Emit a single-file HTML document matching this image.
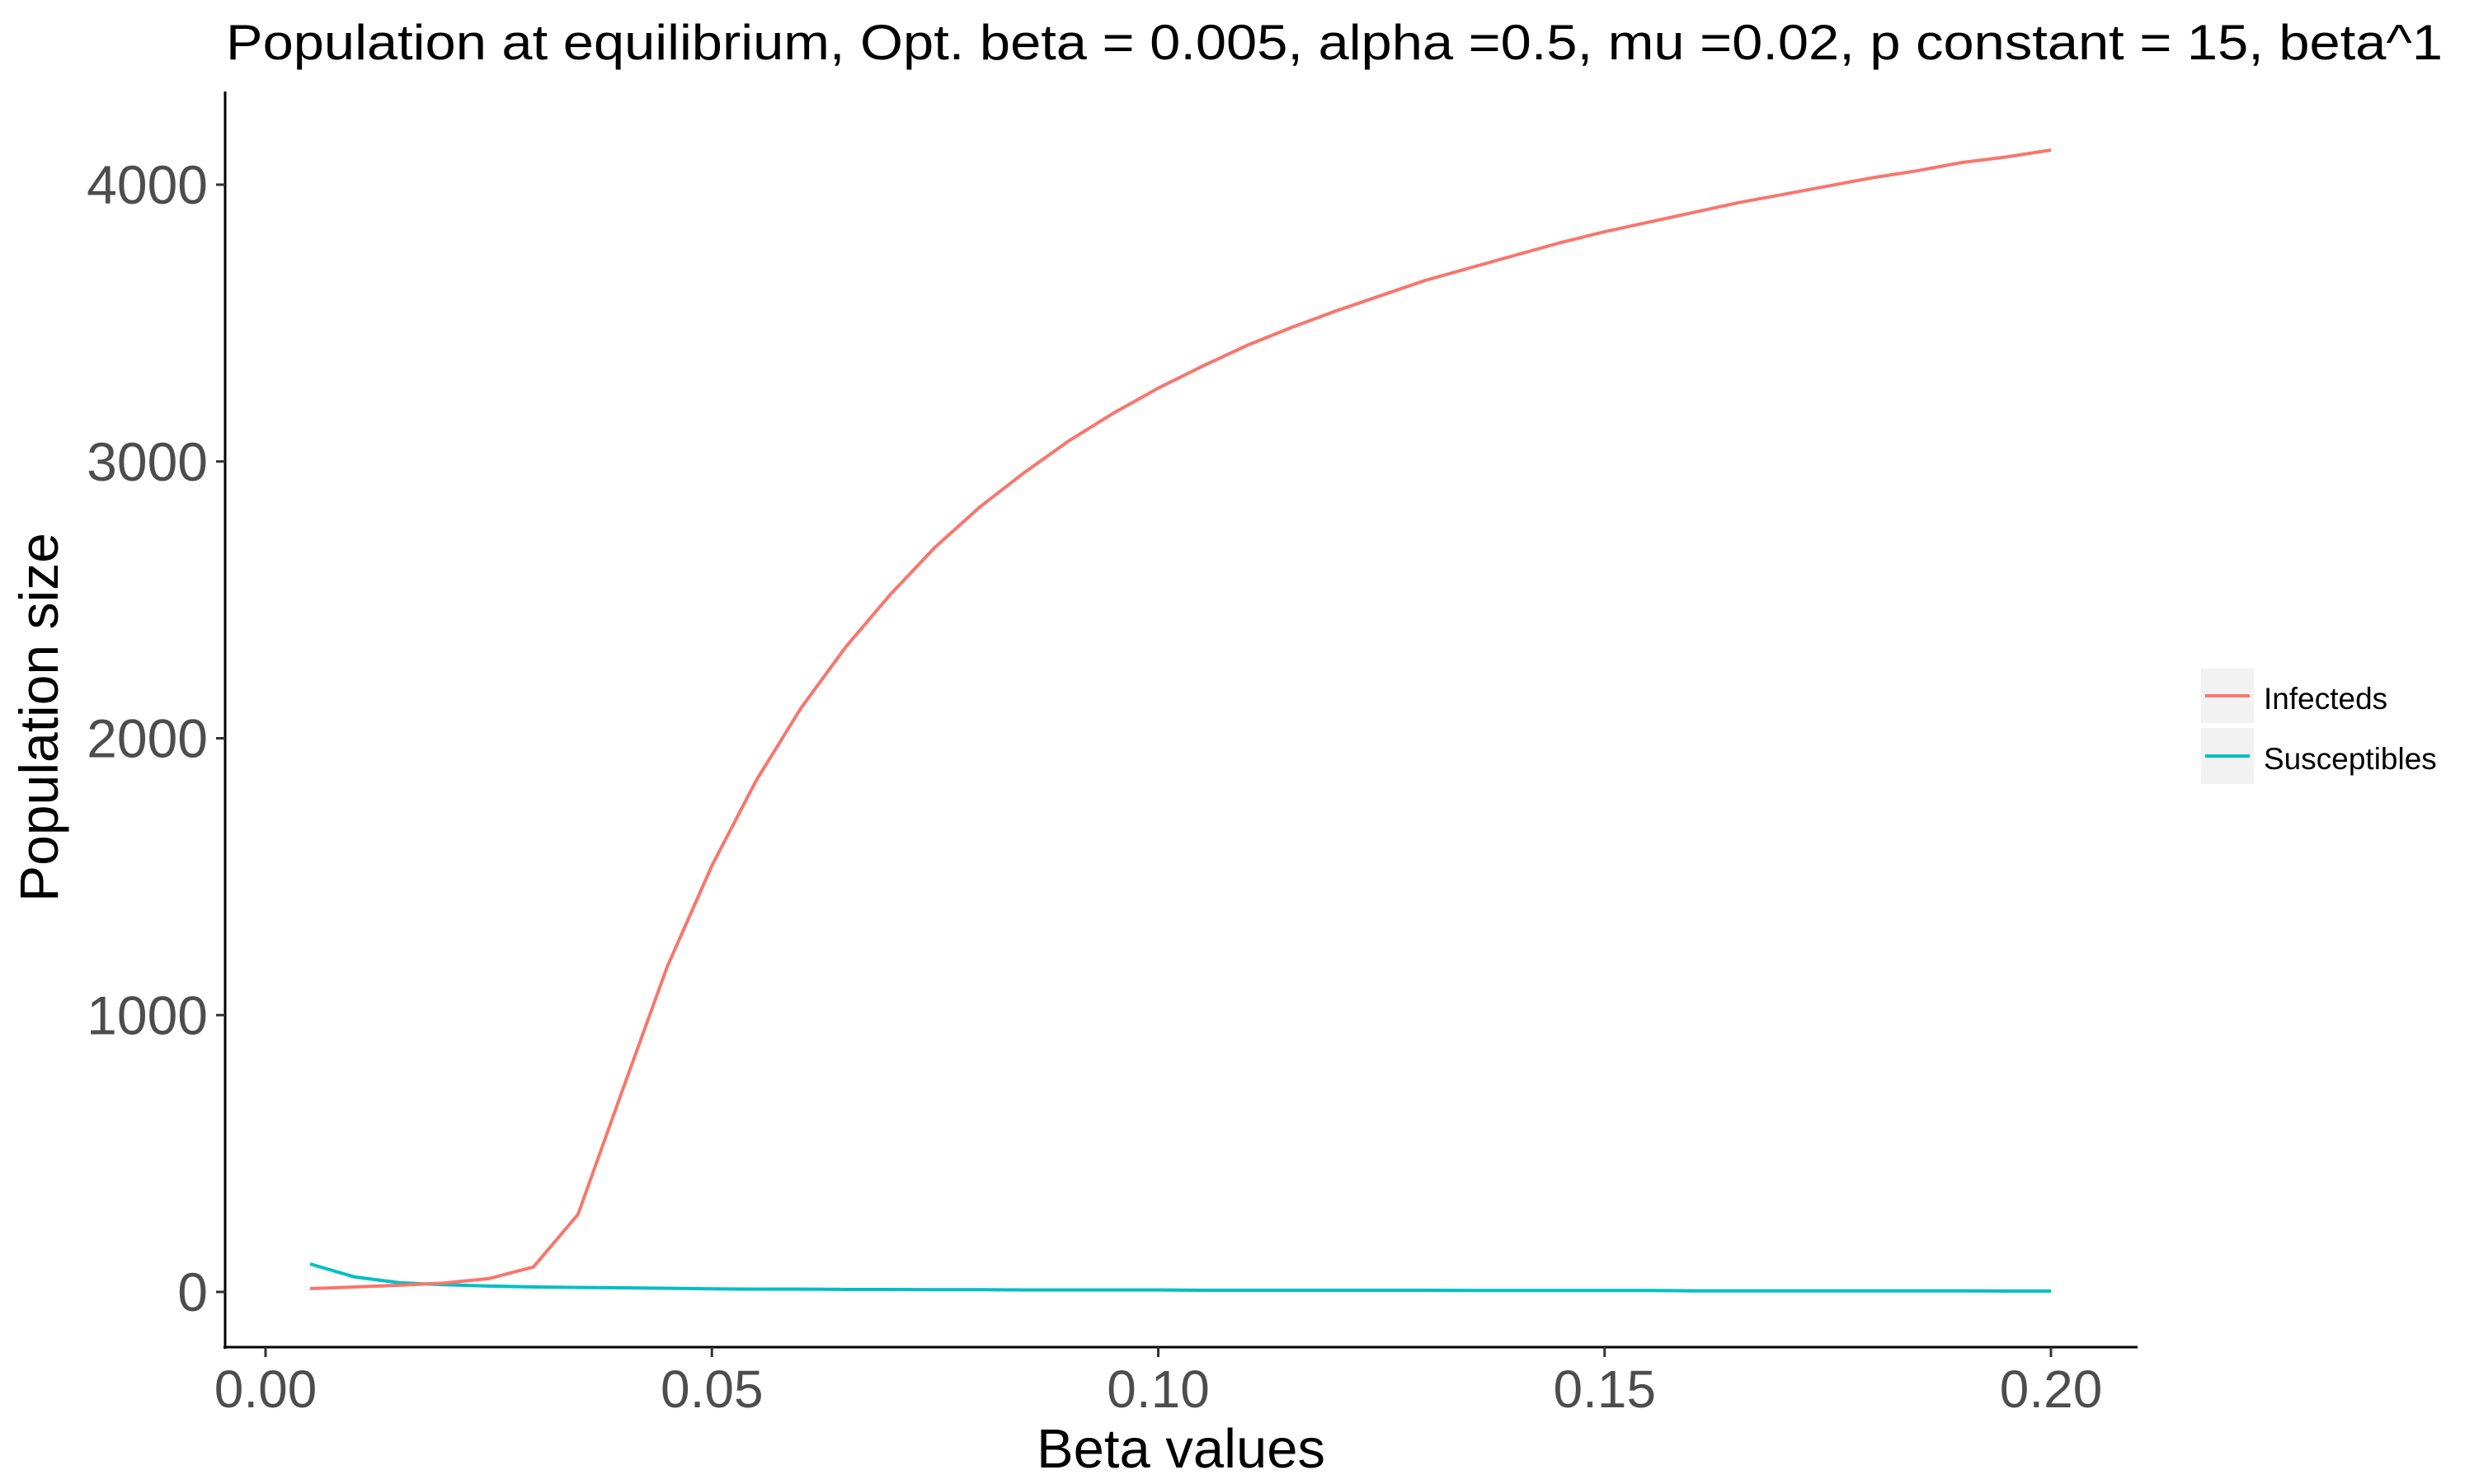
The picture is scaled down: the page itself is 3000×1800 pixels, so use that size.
<!DOCTYPE html>
<html><head><meta charset="utf-8"><style>
html,body{margin:0;padding:0;background:#fff;}
svg{display:block;font-family:"Liberation Sans",Arial,sans-serif;}
</style></head><body>
<svg id="chart" width="3000" height="1800" viewBox="0 0 3000 1800">
<text x="274" y="72" font-size="60" fill="#000" textLength="2688" lengthAdjust="spacingAndGlyphs">Population at equilibrium, Opt. beta = 0.005, alpha =0.5, mu =0.02, p constant = 15, beta^1</text>
<g id="plot"></g>
<line x1="273" y1="111" x2="273" y2="1636" stroke="#000" stroke-width="3"/>
<line x1="271" y1="1634" x2="2592" y2="1634" stroke="#000" stroke-width="3"/>
<g id="axes"></g>
<text x="1432" y="1780" font-size="67" text-anchor="middle" fill="#000">Beta values</text>
<text transform="translate(70,870) rotate(-90)" font-size="66" text-anchor="middle" fill="#000">Population size</text>
<g>
<g>
<rect x="2669" y="811" width="64" height="66" fill="#f2f2f2"/>
<line x1="2674" y1="844" x2="2728" y2="844" stroke="#F8766D" stroke-width="4"/>
<text x="2745" y="860" font-size="37" fill="#000">Infecteds</text>
</g>
<g>
<rect x="2669" y="883" width="64" height="68" fill="#f2f2f2"/>
<line x1="2674" y1="917" x2="2728" y2="917" stroke="#00BFC4" stroke-width="4"/>
<text x="2745" y="933" font-size="37" fill="#000">Susceptibles</text>
</g>
</g>
</svg>
<script>
const betas = [0.005,0.01,0.015,0.02,0.025,0.03,0.035,0.04,0.045,0.05,0.055,0.06,0.065,0.07,0.075,0.08,0.085,0.09,0.095,0.1,0.105,0.11,0.115,0.12,0.125,0.13,0.135,0.14,0.145,0.15,0.155,0.16,0.165,0.17,0.175,0.18,0.185,0.19,0.195,0.2];
const infecteds = [12,18,24,32,48,90,280,730,1175,1540,1850,2110,2330,2520,2690,2835,2960,3075,3175,3265,3345,3420,3485,3545,3600,3655,3700,3745,3790,3830,3865,3900,3935,3965,3995,4025,4050,4080,4100,4125];
const susceptibles = [101,54,33,26,21,18,16,15,13,11,10,10,9,9,8,8,7,7,7,7,6,6,6,6,6,6,5,5,5,5,5,4,4,4,4,4,4,4,3,3];
const xTicks = [0,0.05,0.1,0.15,0.2];
const xTickLabels = ["0.00","0.05","0.10","0.15","0.20"];
const yTicks = [0,1000,2000,3000,4000];
const yTickLabels = ["0","1000","2000","3000","4000"];

const NS = "http://www.w3.org/2000/svg";
function sx(v){ return 322 + v * (2487 - 322) / 0.2; }
function sy(v){ return 1567 - v * (1567 - 224) / 4000; }
function mk(tag, attrs, parent){
  const e = document.createElementNS(NS, tag);
  for (const k in attrs) e.setAttribute(k, attrs[k]);
  parent.appendChild(e); return e;
}
const axes = document.getElementById('axes');
xTicks.forEach((t,i)=>{
  const l = mk('line',{x1:sx(t),x2:sx(t),y1:1634,y2:1646,stroke:'#333','stroke-width':3},axes);
  
  
  const tx = mk('text',{x:sx(t),y:1707,'font-size':64,'text-anchor':'middle',fill:'#4d4d4d'},axes);
  tx.textContent = xTickLabels[i];
  
  
});
yTicks.forEach((t,i)=>{
  const l = mk('line',{x1:262,x2:273,y1:sy(t),y2:sy(t),stroke:'#333','stroke-width':3},axes);
  
  
  const tx = mk('text',{x:252,y:sy(t)+23,'font-size':66,'text-anchor':'end',fill:'#4d4d4d'},axes);
  tx.textContent = yTickLabels[i];
  
  
});
const plot = document.getElementById('plot');
function line(vals, color, name){
  const d = vals.map((v,i)=>(i?'L':'M')+sx(betas[i]).toFixed(1)+','+sy(v).toFixed(1)).join(' ');
  const p = mk('path',{d:d,fill:'none',stroke:color,'stroke-width':4,'stroke-linejoin':'round'},plot);
  
  
}
line(susceptibles,'#00BFC4','susceptibles-line');
line(infecteds,'#F8766D','infecteds-line');
</script>
</body></html>
